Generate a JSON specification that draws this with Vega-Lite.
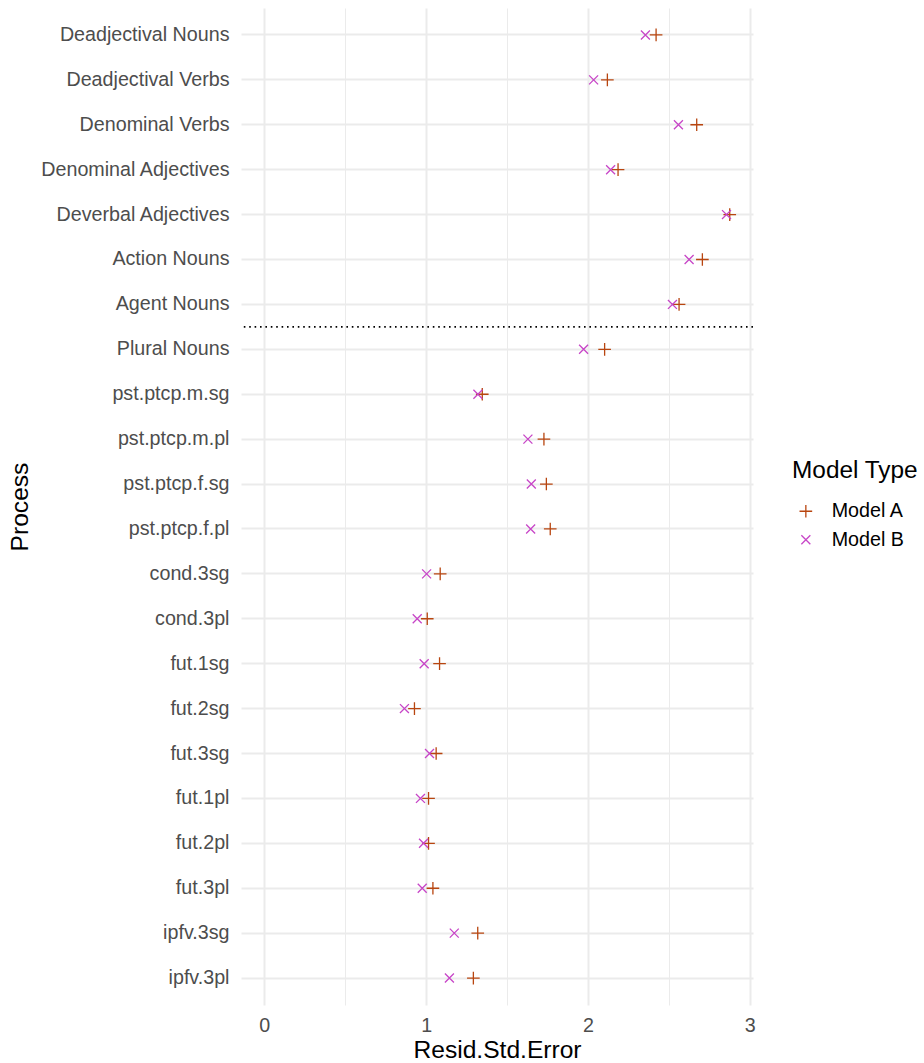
{
  "$schema": "https://vega.github.io/schema/vega-lite/v6.json",
  "autosize": {"type": "none"},
  "width": 512,
  "height": 997,
  "padding": {"left": 241, "top": 8, "right": 171, "bottom": 58},
  "background": "white",
  "config": {
    "view": {"stroke": null},
    "font": "Liberation Sans",
    "axis": {
      "domain": false,
      "ticks": false,
      "grid": true,
      "gridColor": "#ebebeb",
      "labelFontSize": 19.7,
      "labelColor": "#4d4d4d",
      "titleFontSize": 24.6,
      "titleColor": "#000000",
      "titleFontWeight": "normal",
      "labelLimit": 400
    },
    "legend": {
      "titleFontWeight": "normal",
      "titleFontSize": 24.4,
      "titleColor": "#000000",
      "labelFontSize": 19.7,
      "labelColor": "#000000"
    }
  },
  "layer": [
    {
      "data": {
        "values": [
          {"Process": "Deadjectival Nouns", "Model": "Model A", "RSE": 2.421},
          {"Process": "Deadjectival Nouns", "Model": "Model B", "RSE": 2.355},
          {"Process": "Deadjectival Verbs", "Model": "Model A", "RSE": 2.120},
          {"Process": "Deadjectival Verbs", "Model": "Model B", "RSE": 2.035},
          {"Process": "Denominal Verbs", "Model": "Model A", "RSE": 2.672},
          {"Process": "Denominal Verbs", "Model": "Model B", "RSE": 2.559},
          {"Process": "Denominal Adjectives", "Model": "Model A", "RSE": 2.186},
          {"Process": "Denominal Adjectives", "Model": "Model B", "RSE": 2.140},
          {"Process": "Deverbal Adjectives", "Model": "Model A", "RSE": 2.876},
          {"Process": "Deverbal Adjectives", "Model": "Model B", "RSE": 2.856},
          {"Process": "Action Nouns", "Model": "Model A", "RSE": 2.707},
          {"Process": "Action Nouns", "Model": "Model B", "RSE": 2.625},
          {"Process": "Agent Nouns", "Model": "Model A", "RSE": 2.563},
          {"Process": "Agent Nouns", "Model": "Model B", "RSE": 2.522},
          {"Process": "Plural Nouns", "Model": "Model A", "RSE": 2.103},
          {"Process": "Plural Nouns", "Model": "Model B", "RSE": 1.973},
          {"Process": "pst.ptcp.m.sg", "Model": "Model A", "RSE": 1.347},
          {"Process": "pst.ptcp.m.sg", "Model": "Model B", "RSE": 1.320},
          {"Process": "pst.ptcp.m.pl", "Model": "Model A", "RSE": 1.728},
          {"Process": "pst.ptcp.m.pl", "Model": "Model B", "RSE": 1.629},
          {"Process": "pst.ptcp.f.sg", "Model": "Model A", "RSE": 1.743},
          {"Process": "pst.ptcp.f.sg", "Model": "Model B", "RSE": 1.650},
          {"Process": "pst.ptcp.f.pl", "Model": "Model A", "RSE": 1.767},
          {"Process": "pst.ptcp.f.pl", "Model": "Model B", "RSE": 1.646},
          {"Process": "cond.3sg", "Model": "Model A", "RSE": 1.087},
          {"Process": "cond.3sg", "Model": "Model B", "RSE": 1.003},
          {"Process": "cond.3pl", "Model": "Model A", "RSE": 1.007},
          {"Process": "cond.3pl", "Model": "Model B", "RSE": 0.945},
          {"Process": "fut.1sg", "Model": "Model A", "RSE": 1.083},
          {"Process": "fut.1sg", "Model": "Model B", "RSE": 0.988},
          {"Process": "fut.2sg", "Model": "Model A", "RSE": 0.928},
          {"Process": "fut.2sg", "Model": "Model B", "RSE": 0.866},
          {"Process": "fut.3sg", "Model": "Model A", "RSE": 1.062},
          {"Process": "fut.3sg", "Model": "Model B", "RSE": 1.021},
          {"Process": "fut.1pl", "Model": "Model A", "RSE": 1.015},
          {"Process": "fut.1pl", "Model": "Model B", "RSE": 0.965},
          {"Process": "fut.2pl", "Model": "Model A", "RSE": 1.015},
          {"Process": "fut.2pl", "Model": "Model B", "RSE": 0.984},
          {"Process": "fut.3pl", "Model": "Model A", "RSE": 1.042},
          {"Process": "fut.3pl", "Model": "Model B", "RSE": 0.976},
          {"Process": "ipfv.3sg", "Model": "Model A", "RSE": 1.319},
          {"Process": "ipfv.3sg", "Model": "Model B", "RSE": 1.174},
          {"Process": "ipfv.3pl", "Model": "Model A", "RSE": 1.292},
          {"Process": "ipfv.3pl", "Model": "Model B", "RSE": 1.144}
        ]
      },
      "mark": {"type": "point", "filled": false, "strokeWidth": 1.3, "size": 160, "opacity": 1},
      "encoding": {
        "y": {
          "field": "Process",
          "type": "nominal",
          "title": "Process",
          "scale": {
            "type": "band",
            "paddingInner": 0,
            "paddingOuter": 0.1,
            "domain": ["Deadjectival Nouns", "Deadjectival Verbs", "Denominal Verbs", "Denominal Adjectives", "Deverbal Adjectives", "Action Nouns", "Agent Nouns", "Plural Nouns", "pst.ptcp.m.sg", "pst.ptcp.m.pl", "pst.ptcp.f.sg", "pst.ptcp.f.pl", "cond.3sg", "cond.3pl", "fut.1sg", "fut.2sg", "fut.3sg", "fut.1pl", "fut.2pl", "fut.3pl", "ipfv.3sg", "ipfv.3pl"]
          },
          "axis": {"bandPosition": 0.5, "gridWidth": 2, "labelPadding": 12, "titlePadding": 9}
        },
        "x": {
          "field": "RSE",
          "type": "quantitative",
          "title": "Resid.Std.Error",
          "scale": {"domain": [-0.1438, 3.0198], "nice": false, "zero": false},
          "axis": {
            "values": [0, 0.5, 1, 1.5, 2, 2.5, 3],
            "labelExpr": "datum.value % 1 === 0 ? format(datum.value, 'd') : ''",
            "gridWidth": {"condition": {"test": "datum.value % 1 !== 0", "value": 1}, "value": 2},
            "labelPadding": 10,
            "titlePadding": 3.5
          }
        },
        "color": {
          "field": "Model",
          "type": "nominal",
          "scale": {"domain": ["Model A", "Model B"], "range": ["#B8450F", "#C745C7"]},
          "legend": {
            "title": "Model Type",
            "orient": "none",
            "legendX": 551,
            "legendY": 451,
            "padding": 0,
            "titlePadding": 18,
            "rowPadding": 7.5,
            "symbolSize": 160,
            "symbolStrokeWidth": 1.3,
            "symbolOffset": 4,
            "labelOffset": 16
          }
        },
        "shape": {
          "field": "Model",
          "type": "nominal",
          "scale": {"domain": ["Model A", "Model B"], "range": ["M-1,0L1,0M0,-1L0,1", "M-0.71,-0.71L0.71,0.71M-0.71,0.71L0.71,-0.71"]},
          "legend": {
            "title": "Model Type",
            "orient": "none",
            "legendX": 551,
            "legendY": 451,
            "padding": 0,
            "titlePadding": 18,
            "rowPadding": 7.5,
            "symbolSize": 160,
            "symbolStrokeWidth": 1.3,
            "symbolOffset": 4,
            "labelOffset": 16
          }
        }
      }
    },
    {
      "data": {"values": [{"Process": "Agent Nouns"}]},
      "mark": {"type": "rule", "strokeDash": [1.6, 3.8], "strokeWidth": 1.6, "color": "#000000"},
      "encoding": {
        "y": {"field": "Process", "type": "nominal", "bandPosition": 1}
      }
    }
  ]
}
